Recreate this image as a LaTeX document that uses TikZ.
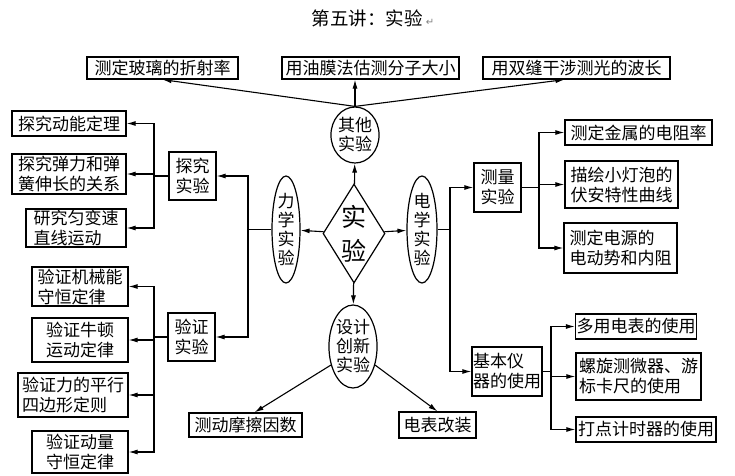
\documentclass[tikz,border=0pt]{standalone}
\usepackage{fontspec}
\setmainfont{Noto Sans CJK SC}
\newfontfamily\symfont{DejaVu Sans}
\usepackage{tikz}
\usetikzlibrary{arrows.meta,shapes.geometric}

\begin{document}
\begin{tikzpicture}[x=1pt,y=-1pt,line width=1.1pt,
    box/.style={draw,line width=1.2pt,inner sep=1pt,align=left,font=\fontsize{17}{20}\selectfont},
    oval/.style={draw,ellipse,line width=1.2pt,inner sep=0pt,align=center,font=\fontsize{17}{19}\selectfont},
    arr/.style={-{Latex[length=9pt,width=5pt]}}]
  \useasboundingbox (0,0) rectangle (735,475);
  \node[anchor=west,font=\fontsize{18.5}{20}\selectfont] (title) at (308,18) {第五讲：实验\,{\symfont\color{gray}\fontsize{10}{10}\selectfont ↵}};
  % centre and the four branches
  \node[draw,diamond,aspect=0.63,minimum width=62,minimum height=99,inner sep=0pt,line width=1.2pt,
        align=center,font=\fontsize{25}{34}\selectfont] (sy) at (354,233.5) {实\\验};
  \node[oval,minimum width=45,minimum height=56] (qt) at (355,135) {其他\\实验};
  \node[oval,minimum width=28,minimum height=107] (lx) at (286,229.5) {力\\学\\实\\验};
  \node[oval,minimum width=30,minimum height=107] (dx) at (422,229.5) {电\\学\\实\\验};
  \node[oval,minimum width=48,minimum height=83] (sj) at (353,346.5) {设计\\创新\\实验};
  \foreach \b in {qt,lx,dx,sj} \draw[arr] (sy) -- (\b);
  % other experiments
  \node[box,minimum width=151,minimum height=22] (t1) at (162.5,68) {测定玻璃的折射率};
  \node[box,minimum width=177,minimum height=22] (t2) at (370.5,68) {用油膜法估测分子大小};
  \node[box,minimum width=187,minimum height=22] (t3) at (576.5,68) {用双缝干涉测光的波长};
  \draw[arr] (qt.north) -- (t1.south);
  \draw[arr] (qt.north) -- (qt.north |- t2.south);
  \draw[arr] (qt.north) -- ([xshift=-12pt]t3.south);
  % mechanics
  \node[box,minimum width=47,minimum height=48] (tj) at (192.5,176) {探究\\实验};
  \node[box,minimum width=47,minimum height=48] (yz) at (191.5,337) {验证\\实验};
  \coordinate (lb) at (248,229.5);
  \draw (lx.west) -- (lb);
  \foreach \b in {tj,yz} \draw[arr] (lb) |- (\b.east);
  \node[box,minimum width=114,minimum height=25] (a1) at (69,123.5) {探究动能定理};
  \node[box,minimum width=114,minimum height=40] (a2) at (69,174) {探究弹力和弹\\簧伸长的关系};
  \node[box,minimum width=100,minimum height=38] (a3) at (76,228) {研究匀变速\\直线运动};
  \coordinate (tb) at (154,176);
  \draw (tj.west) -- (tb);
  \foreach \b in {a1,a2,a3} \draw[arr] (tb) |- (\b.east);
  \node[box,minimum width=96,minimum height=39] (b1) at (80,286.5) {验证机械能\\守恒定律};
  \node[box,minimum width=96,minimum height=44] (b2) at (80,340) {验证牛顿\\运动定律};
  \node[box,minimum width=110,minimum height=44] (b3) at (73,395) {验证力的平行\\四边形定则};
  \node[box,minimum width=96,minimum height=42] (b4) at (80,452) {验证动量\\守恒定律};
  \coordinate (yb) at (154,337);
  \draw (yz.west) -- (yb);
  \foreach \b in {b1,b2,b3,b4} \draw[arr] (yb) |- (\b.east);
  % electricity
  \node[box,minimum width=47,minimum height=49] (cl) at (497.5,187.5) {测量\\实验};
  \node[box,minimum width=68,minimum height=49] (jb) at (507,371.5) {基本仪\\器的使用};
  \coordinate (rb) at (450,229.5);
  \draw (dx.east) -- (rb);
  \foreach \b in {cl,jb} \draw[arr] (rb) |- (\b.west);
  \node[box,minimum width=147,minimum height=25] (c1) at (638.5,132.5) {测定金属的电阻率};
  \node[box,minimum width=113,minimum height=47] (c2) at (621.5,184.5) {描绘小灯泡的\\伏安特性曲线};
  \node[box,minimum width=113,minimum height=50] (c3) at (620.5,248) {测定电源的\\电动势和内阻};
  \coordinate (mb) at (539,187.5);
  \draw (cl.east) -- (mb);
  \foreach \b in {c1,c2,c3} \draw[arr] (mb) |- (\b.west);
  \node[box,minimum width=120,minimum height=25] (d1) at (636,326.5) {多用电表的使用};
  \node[box,minimum width=125,minimum height=47] (d2) at (638.5,376.5) {螺旋测微器、游\\标卡尺的使用};
  \node[box,minimum width=140,minimum height=25] (d3) at (646,429.5) {打点计时器的使用};
  \coordinate (nb) at (551,371.5);
  \draw (jb.east) -- (nb);
  \foreach \b in {d1,d2,d3} \draw[arr] (nb) |- (\b.west);
  % design and innovation
  \node[box,minimum width=113,minimum height=24] (e1) at (245.5,425) {测动摩擦因数};
  \node[box,minimum width=77,minimum height=26] (e2) at (437.5,425) {电表改装};
  \draw[arr] (sj.220) -- ([xshift=9pt]e1.north);
  \draw[arr] (sj.320) -- (e2.north);
\end{tikzpicture}
\end{document}
